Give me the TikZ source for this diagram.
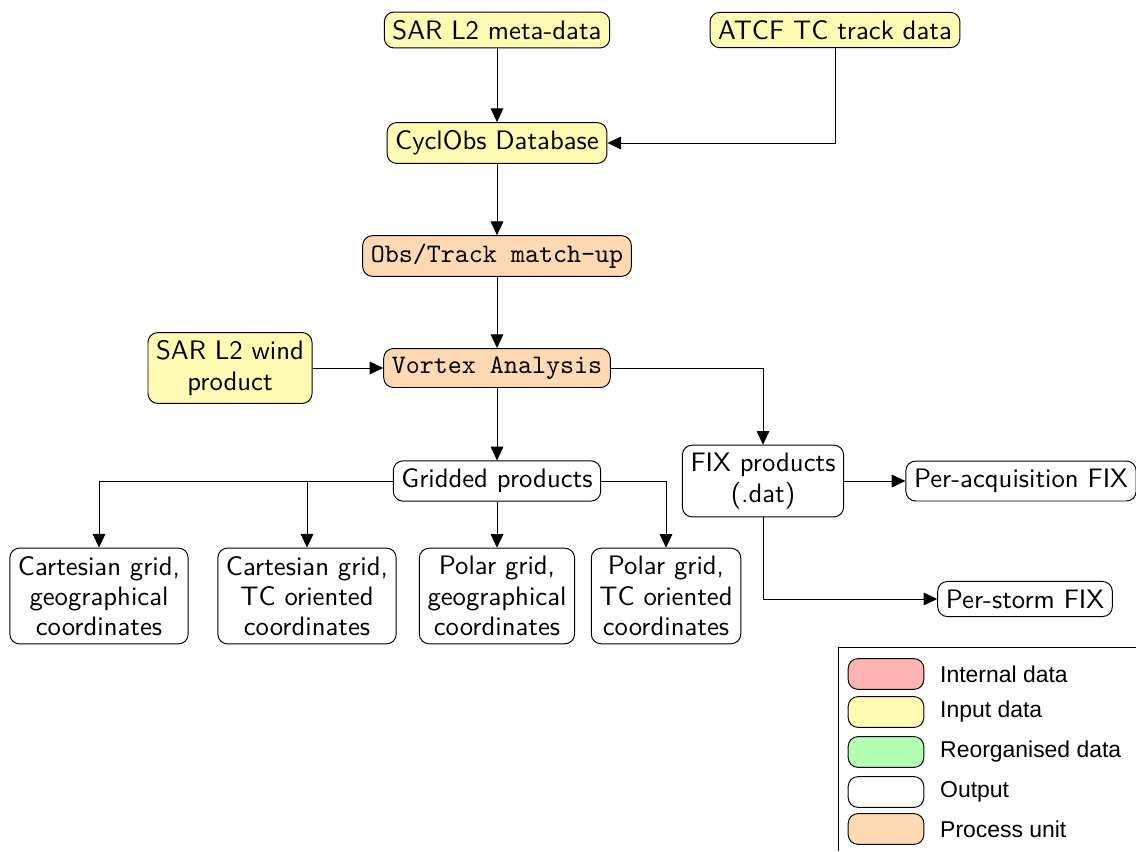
\documentclass[tikz,border=0pt]{standalone}
\usepackage{fontspec}
\newfontfamily\legendfont{Liberation Sans}
\usetikzlibrary{arrows.meta}
\begin{document}
\begin{tikzpicture}[x=0.41pt,y=-0.41pt,
    box/.style={draw, rounded corners=4pt, align=center, font=\sffamily\fontsize{10.95}{12.4}\selectfont},
    input/.style={box, fill=yellow!30},
    process/.style={box, fill=orange!30, font=\ttfamily\fontsize{10.95}{12.4}\selectfont},
    output/.style={box, fill=white},
    arr/.style={-{Triangle[length=5.6pt,width=5.2pt]}},
    swatch/.style={draw, rounded corners=4pt, minimum width=31pt, minimum height=12.6pt, inner sep=0pt},
    legtext/.style={anchor=west, xshift=3pt, font=\legendfont\fontsize{9.4}{11}\selectfont}]
    \useasboundingbox (0,0) rectangle (1136,851);
    \node[input] (meta) at (497,30) {SAR L2 meta-data};
    \node[input] (atcf) at (835,30) {ATCF TC track data};
    \node[input] (cyclobs) at (497,143) {CyclObs Database};
    \node[process] (match) at (497,256) {Obs/Track match-up};
    \node[process] (vortex) at (497,368) {Vortex Analysis};
    \node[input] (wind) at (230,368) {SAR L2 wind\\product};
    \node[output] (gridded) at (497,481) {Gridded products};
    \node[output] (fix) at (763,481) {FIX products\\(.dat)};
    \node[output] (peracq) at (1021,481) {Per-acquisition FIX};
    \node[output] (perstorm) at (1025,599) {Per-storm FIX};
    \node[output] (cartgeo) at (99,596) {Cartesian grid,\\geographical\\coordinates};
    \node[output] (carttc) at (307,596) {Cartesian grid,\\TC oriented\\coordinates};
    \node[output] (polgeo) at (497,596) {Polar grid,\\geographical\\coordinates};
    \node[output] (poltc) at (666,596) {Polar grid,\\TC oriented\\coordinates};
    \draw[arr] (meta) -- (cyclobs);
    \draw[arr] (atcf) |- (cyclobs);
    \draw[arr] (cyclobs) -- (match);
    \draw[arr] (match) -- (vortex);
    \draw[arr] (wind) -- (vortex);
    \draw[arr] (vortex) -| (fix);
    \draw[arr] (vortex) -- (gridded);
    \draw[arr] (gridded) -| (cartgeo);
    \draw[arr] (gridded) -| (carttc);
    \draw[arr] (gridded) -- (polgeo);
    \draw[arr] (gridded) -| (poltc);
    \draw[arr] (fix) -- (peracq);
    \draw[arr] (fix) |- (perstorm);
    \draw (838,851) -- (838,647) -- (1136,647);
    \node[swatch, fill=red!30] (internal) at (886,674) {};
    \node[swatch, fill=yellow!30] (inputkey) at (886,712) {};
    \node[swatch, fill=green!30] (reorg) at (886,752) {};
    \node[swatch, fill=white] (outputkey) at (886,792) {};
    \node[swatch, fill=orange!30] (processkey) at (886,829) {};
    \node[legtext] (internaltext) at (internal.east) {Internal data};
    \node[legtext] (inputtext) at (inputkey.east) {Input data};
    \node[legtext] (reorgtext) at (reorg.east) {Reorganised data};
    \node[legtext] (outputtext) at (outputkey.east) {Output};
    \node[legtext] (processtext) at (processkey.east) {Process unit};
\end{tikzpicture}
\end{document}
